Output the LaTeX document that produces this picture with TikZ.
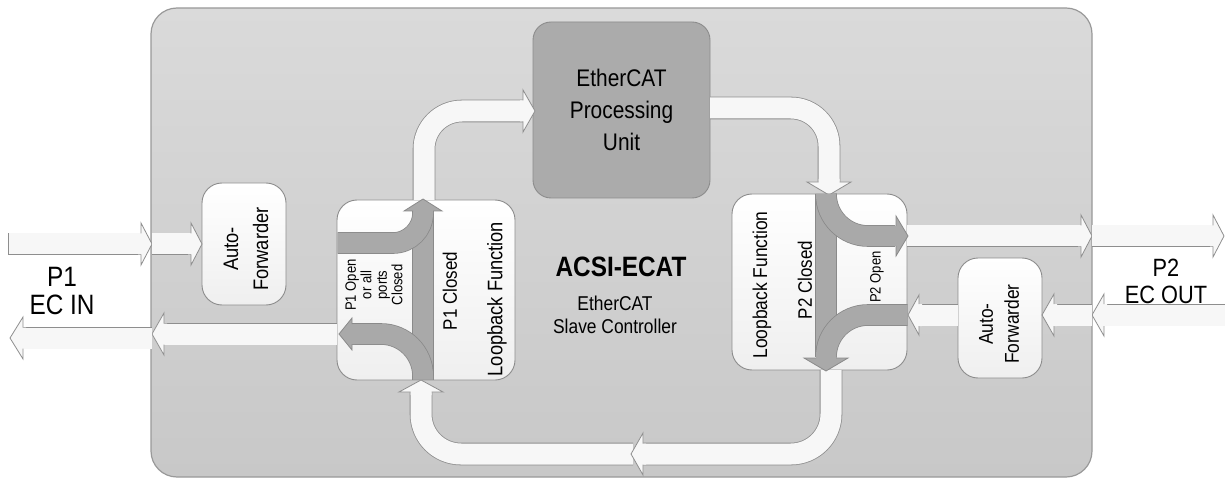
\documentclass[tikz,border=0pt]{standalone}
\usepackage{fontspec}
\setmainfont[FakeStretch=0.87]{Liberation Sans}
\definecolor{mainTop}{HTML}{DADADA}
\definecolor{mainBot}{HTML}{C8C8C8}
\definecolor{mainLine}{HTML}{999999}
\definecolor{boxLine}{HTML}{8C8C8C}
\definecolor{lbTop}{HTML}{FFFFFF}
\definecolor{lbBot}{HTML}{EFEFEF}
\definecolor{epuFill}{HTML}{ABABAB}
\definecolor{wFill}{HTML}{F7F7F7}
\definecolor{wLine}{HTML}{8E8E8E}
\definecolor{gFill}{HTML}{A9A9A9}
\definecolor{gLine}{HTML}{8A8A8A}
\tikzset{
  pics/head/.style n args={5}{code={%
    \fill[#4] (-#3-3,#1) -- (-#3,#1) -- (-#3,#2) -- (0,0) -- (-#3,-#2) -- (-#3,-#1) -- (-#3-3,-#1) -- cycle;
    \draw[#5, line width=0.8pt, line join=miter] (-#3,#1) -- (-#3,#2) -- (0,0) -- (-#3,-#2) -- (-#3,-#1);
  }},
  wband/.style={draw=wLine, line width=0.8pt, double=wFill, double distance=21pt},
  gband/.style={draw=gLine, line width=0.8pt, double=gFill, double distance=20pt},
  boxstyle/.style={draw=boxLine, line width=0.9pt, rounded corners=20pt, top color=lbTop, bottom color=lbBot, inner sep=0pt},
  lbl/.style={inner sep=0pt, align=center},
}
\begin{document}
\begin{tikzpicture}[x=1pt,y=-1pt]
\useasboundingbox (0,0) rectangle (1225,478);
% main controller
\node[draw=mainLine, line width=1.2pt, rounded corners=26pt, top color=mainTop, bottom color=mainBot,
      minimum width=941pt, minimum height=469pt, inner sep=0pt] (main) at (621.5,242.5) {};
% boxes
\node[boxstyle, minimum width=178pt, minimum height=180pt] (lb1) at (426,290) {};
\node[boxstyle, minimum width=175pt, minimum height=176pt] (lb2) at (819.5,282) {};
\node[boxstyle, minimum width=84pt, minimum height=122pt] (af1) at (244,244) {};
\node[boxstyle, minimum width=84pt, minimum height=120pt] (af2) at (1000,318) {};
\node[draw=boxLine, line width=0.9pt, rounded corners=18pt, fill=epuFill, minimum width=177pt, minimum height=176pt] (epu) at (621.5,110) {};

% white arrows
\draw[wband] (8,244) -- (141,244);
\draw[wLine, line width=0.8pt] (8,233.5) -- (8,254.5);
\pic at (152,244) {head={10.5}{21}{11}{wFill}{wLine}};
\draw[wband] (152,244) -- (191,244);
\pic at (202,244) {head={10.5}{21}{11}{wFill}{wLine}};
\draw[wband] (337,334) -- (164,334);
\pic[rotate=180] at (152,334) {head={10.5}{21}{12}{wFill}{wLine}};
\draw[wband] (152,338) -- (23,338);
\pic[rotate=180] at (10,338) {head={10.5}{21}{13}{wFill}{wLine}};
\draw[wband, rounded corners=38pt] (424,200) -- (424,111) -- (523,111);
\pic at (535,111) {head={10.5}{21}{12}{wFill}{wLine}};
\draw[wband, rounded corners=38pt] (710,108) -- (829,108) -- (829,182);
\pic[rotate=270] at (829,195) {head={10.5}{22}{13}{wFill}{wLine}};
\draw[wband, rounded corners=40pt] (633,454) -- (421,454) -- (421,392);
\pic[rotate=90] at (421,380) {head={10.5}{22}{12}{wFill}{wLine}};
\draw[wband, rounded corners=40pt] (831,370) -- (831,454) -- (643,454);
\pic[rotate=180] at (631,454) {head={10.5}{21}{12}{wFill}{wLine}};
\draw[wband] (907,236) -- (1081,236);
\pic at (1092,236) {head={10.5}{21}{11}{wFill}{wLine}};
\draw[wband] (1092,236) -- (1213,236);
\pic at (1224,236) {head={10.5}{21}{11}{wFill}{wLine}};
\draw[wband] (1228,315) -- (1104,315);
\pic[rotate=180] at (1092,315) {head={11}{21}{12}{wFill}{wLine}};
\draw[wband] (1092,315) -- (1054,315);
\pic[rotate=180] at (1042,315) {head={11}{21}{12}{wFill}{wLine}};
\draw[wband] (958,315) -- (919,315);
\pic[rotate=180] at (908,315) {head={11}{20}{11}{wFill}{wLine}};

% gray loopback bands: straight band first, curves over it
\draw[gband] (423,379.5) -- (423,210);
\draw[gband] (826,194.5) -- (826,357);
\draw[gband, rounded corners=30pt] (337.5,243) -- (423,243) -- (423,210);
\draw[gband, rounded corners=42pt] (423,379.5) -- (423,334) -- (351,334);
\draw[gband, rounded corners=42pt] (826,194.5) -- (826,236) -- (895,236);
\draw[gband, rounded corners=42pt] (907.5,315) -- (826,315) -- (826,357);
\pic[rotate=90] at (423,199) {head={10}{19}{12}{gFill}{gLine}};
\pic[rotate=180] at (339,334) {head={10}{16}{13}{gFill}{gLine}};
\pic at (908,236) {head={10}{20}{12}{gFill}{gLine}};
\pic[rotate=270] at (826,371) {head={10}{22}{13}{gFill}{gLine}};

% texts
\node[lbl, font=\fontsize{28}{28}\selectfont] (p1lbl) at (62,291) {P1\\EC IN};
\node[lbl, font=\fontsize{25}{27}\selectfont] (p2lbl) at (1166,281) {P2\\EC OUT};
\node[lbl, font=\fontsize{24}{32}\selectfont] (epulbl) at (epu) {EtherCAT\\Processing\\Unit};
\node[lbl, font=\bfseries\fontsize{28}{28}\selectfont] (title) at (621,267) {ACSI-ECAT};
\node[lbl, font=\fontsize{20}{23}\selectfont] (sub) at (615,315) {EtherCAT\\Slave Controller};
\node[lbl, rotate=90, font=\fontsize{21}{30}\selectfont] (af1lbl) at (246,249) {Auto-\\Forwarder};
\node[lbl, rotate=90, font=\fontsize{20}{26}\selectfont] (af2lbl) at (999,324) {Auto-\\Forwarder};
\node[lbl, rotate=90, font=\fontsize{15}{15.5}\selectfont] (p1open) at (374,285) {P1 Open\\or all\\ports\\Closed};
\node[lbl, rotate=90, font=\fontsize{19.5}{20}\selectfont] (p1closed) at (450,291) {P1 Closed};
\node[lbl, rotate=90, font=\fontsize{21}{21}\selectfont] (lb1lbl) at (497,299) {Loopback Function};
\node[lbl, rotate=90, font=\fontsize{20}{20}\selectfont] (lb2lbl) at (762,285) {Loopback Function};
\node[lbl, rotate=90, font=\fontsize{19.5}{20}\selectfont] (p2closed) at (805,280) {P2 Closed};
\node[lbl, rotate=90, font=\fontsize{15}{15}\selectfont] (p2open) at (877,277) {P2 Open};
\end{tikzpicture}
\end{document}
